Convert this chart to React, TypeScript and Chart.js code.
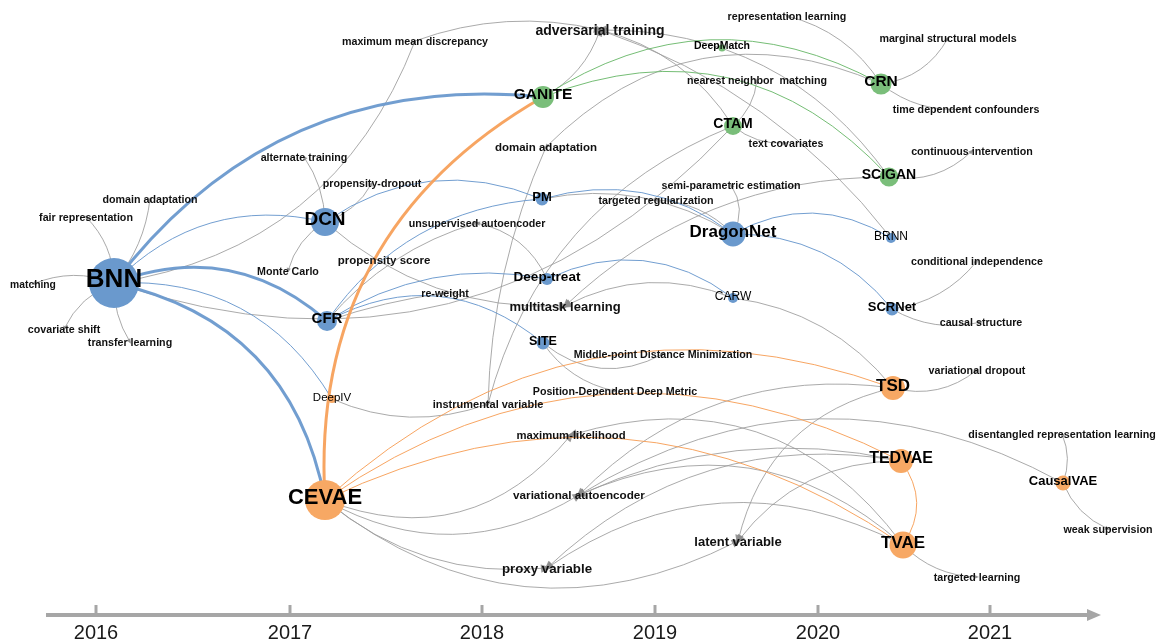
import React, { useEffect, useRef } from 'react';
import { Chart, registerables } from 'chart.js';

Chart.register(...registerables);

// ---------- data ----------
const yearLabels = ['2016', '2017', '2018', '2019', '2020', '2021'];
const yearPositions = [96, 290, 482, 655, 818, 990];
const axisExtent = [46, 1101];

const blueNames = ['BNN', 'DCN', 'CFR', 'PM', 'Deep-treat', 'SITE', 'CARW', 'DragonNet', 'BRNN', 'SCRNet'];
const blueX = [114, 325, 327, 542, 547, 543, 733, 733, 891, 892];
const blueY = [283, 222, 321, 199, 279, 343, 298, 234, 238, 309];
const blueR = [25, 14, 10, 6.5, 6, 6.5, 5, 12.5, 5, 6.5];

const greenNames = ['GANITE', 'DeepMatch', 'CTAM', 'CRN', 'SCIGAN'];
const greenX = [543, 722, 733, 881, 889];
const greenY = [97, 48, 126, 84, 177];
const greenR = [11, 3.5, 9, 10.5, 9.5];

const orangeNames = ['CEVAE', 'DeepIV', 'TSD', 'TEDVAE', 'TVAE', 'CausalVAE'];
const orangeX = [325, 332, 893, 901, 903, 1063];
const orangeY = [500, 399, 388, 461, 545, 483];
const orangeR = [20, 4, 12, 12, 13.5, 7.5];

const keywordKeys = [
  'maximum mean discrepancy', 'adversarial training', 'representation learning', 'marginal structural models',
  'nearest neighbor  matching', 'time dependent confounders', 'text covariates', 'continuous intervention',
  'domain adaptation#2', 'alternate training', 'propensity-dropout', 'domain adaptation', 'fair representation',
  'semi-parametric estimation', 'targeted regularization', 'unsupervised autoencoder', 'Monte Carlo',
  'propensity score', 'matching', 're-weight', 'multitask learning', 'conditional independence',
  'causal structure', 'covariate shift', 'transfer learning', 'Middle-point Distance Minimization',
  'variational dropout', 'Position-Dependent Deep Metric', 'instrumental variable', 'maximum-likelihood',
  'disentangled representation learning', 'variational autoencoder', 'latent variable', 'proxy variable',
  'weak supervision', 'targeted learning',
];
const keywordX = [
  415, 600, 787, 948, 757, 966, 786, 972, 546, 304, 372, 150, 86, 731, 656, 477, 288, 384, 33, 445, 565, 977,
  981, 64, 130, 663, 977, 615, 488, 571, 1062, 579, 738, 547, 1108, 977,
];
const keywordY = [
  41, 30, 16, 38, 80, 109, 143, 151, 147, 157, 183, 199, 217, 185, 200, 223, 271, 260, 284, 293, 306, 261,
  322, 329, 342, 354, 370, 391, 404, 435, 434, 495, 541, 568, 529, 577,
];

// edges: [from, to, bend]
const thickBlueEdges: [string, string, number][] = [
  ['BNN', 'GANITE', -0.28], ['BNN', 'CFR', -0.3], ['BNN', 'CEVAE', -0.33],
];
const thickOrangeEdges: [string, string, number][] = [['CEVAE', 'GANITE', -0.31]];
const blueEdges: [string, string, number][] = [
  ['BNN', 'DCN', -0.28], ['BNN', 'DeepIV', -0.3], ['DCN', 'PM', -0.27], ['CFR', 'PM', -0.24],
  ['CFR', 'Deep-treat', -0.2], ['CFR', 'SITE', -0.33], ['Deep-treat', 'CARW', -0.3], ['PM', 'DragonNet', -0.25],
  ['DragonNet', 'BRNN', -0.29], ['DragonNet', 'SCRNet', -0.24],
];
const greenEdges: [string, string, number][] = [['GANITE', 'CRN', -0.3], ['GANITE', 'SCIGAN', -0.34]];
const orangeEdges: [string, string, number][] = [
  ['CEVAE', 'TSD', -0.3], ['CEVAE', 'TEDVAE', -0.3], ['CEVAE', 'TVAE', -0.29], ['TEDVAE', 'TVAE', -0.35],
];
const grayEdges: [string, string, number][] = [
  ['BNN', 'matching', 0.2], ['BNN', 'fair representation', 0.2], ['BNN', 'domain adaptation', 0.15],
  ['BNN', 'covariate shift', 0.2], ['BNN', 'transfer learning', 0.15], ['BNN', 'maximum mean discrepancy', 0.29],
  ['BNN', 'CTAM', 0.32], ['maximum mean discrepancy', 'adversarial training', -0.15],
  ['GANITE', 'adversarial training', 0.2], ['CTAM', 'adversarial training', 0.2], ['SCIGAN', 'adversarial training', 0.26],
  ['BRNN', 'adversarial training', 0.15], ['CRN', 'representation learning', 0.2], ['CRN', 'marginal structural models', 0.25],
  ['CRN', 'time dependent confounders', 0.2], ['CRN', 'domain adaptation#2', 0.34], ['SCIGAN', 'continuous intervention', 0.25],
  ['SCIGAN', 'multitask learning', 0.2], ['CTAM', 'nearest neighbor  matching', 0.2], ['CTAM', 'text covariates', 0.2],
  ['CTAM', 'instrumental variable', 0.25], ['DCN', 'alternate training', 0.15], ['DCN', 'Monte Carlo', 0.2],
  ['DCN', 'propensity-dropout', 0.2], ['DCN', 'multitask learning', 0.2], ['CFR', 'unsupervised autoencoder', -0.15],
  ['CFR', 're-weight', -0.05], ['Deep-treat', 'unsupervised autoencoder', 0.25], ['PM', 'DragonNet', -0.2],
  ['DragonNet', 'semi-parametric estimation', 0.3], ['DragonNet', 'targeted regularization', 0.2],
  ['CARW', 'multitask learning', 0.23], ['CARW', 'TSD', -0.2], ['SITE', 'Middle-point Distance Minimization', 0.33],
  ['SITE', 'Position-Dependent Deep Metric', 0.2], ['DeepIV', 'instrumental variable', 0.2],
  ['domain adaptation#2', 'instrumental variable', 0.1], ['TSD', 'variational dropout', 0.25],
  ['SCRNet', 'conditional independence', 0.2], ['SCRNet', 'causal structure', 0.2],
  ['CausalVAE', 'disentangled representation learning', 0.2], ['CausalVAE', 'weak supervision', 0.2],
  ['TVAE', 'targeted learning', 0.2], ['CausalVAE', 'variational autoencoder', 0.29],
  ['TEDVAE', 'variational autoencoder', 0.17], ['TVAE', 'variational autoencoder', 0.32],
  ['TSD', 'variational autoencoder', 0.25], ['TSD', 'latent variable', 0.31], ['TEDVAE', 'latent variable', 0.25],
  ['TVAE', 'maximum-likelihood', 0.35], ['TEDVAE', 'proxy variable', 0.25], ['TVAE', 'proxy variable', 0.3],
  ['CEVAE', 'latent variable', 0.32], ['CEVAE', 'proxy variable', 0.21], ['CEVAE', 'variational autoencoder', 0.29],
  ['CEVAE', 'maximum-likelihood', 0.36],
];

// ---------- styles ----------
const FONT = '"Liberation Sans", Arial, sans-serif';
const COLORS = {
  blue: 'rgb(106,153,205)',
  green: 'rgb(122,190,122)',
  orange: 'rgb(247,168,100)',
  gray: 'rgba(155,155,155,0.85)',
  blueLine: 'rgba(106,153,205,0.95)',
  orangeLine: 'rgba(247,160,90,0.95)',
  greenLine: 'rgba(110,185,110,0.95)',
  axis: '#A6A6A6',
};
const nodeFontSize: Record<string, number> = {
  BNN: 26, DCN: 19, CFR: 15, PM: 13, 'Deep-treat': 13.5, SITE: 12.5, CARW: 12, DragonNet: 17, BRNN: 12, SCRNet: 13,
  GANITE: 15.5, DeepMatch: 10.5, CTAM: 14, CRN: 15.5, SCIGAN: 14,
  CEVAE: 22, DeepIV: 11.5, TSD: 17, TEDVAE: 16, TVAE: 17, CausalVAE: 13,
};
const normalWeightNodes = ['CARW', 'BRNN', 'DeepIV'];
const keywordFontSize: Record<string, number> = {
  'adversarial training': 14, 'domain adaptation#2': 11.5, 'multitask learning': 13, 'propensity score': 11.5,
  'instrumental variable': 11, 'maximum-likelihood': 11.3, 'variational autoencoder': 11.7,
  'proxy variable': 13.3, 'latent variable': 13, matching: 10.3,
};
const hubKeywords = ['adversarial training', 'multitask learning', 'variational autoencoder', 'proxy variable', 'latent variable', 'maximum-likelihood'];

function lookup(key: string): [number, number] | null {
  let i = blueNames.indexOf(key);
  if (i >= 0) return [blueX[i], blueY[i]];
  i = greenNames.indexOf(key);
  if (i >= 0) return [greenX[i], greenY[i]];
  i = orangeNames.indexOf(key);
  if (i >= 0) return [orangeX[i], orangeY[i]];
  i = keywordKeys.indexOf(key);
  if (i >= 0) return [keywordX[i], keywordY[i]];
  return null;
}

const networkPlugin = {
  id: 'network',
  beforeDatasetsDraw(chart: any) {
    const { ctx, scales } = chart;
    const xs = scales.x, ys = scales.y;
    const toPx = (k: string) => {
      const p = lookup(k)!;
      return [xs.getPixelForValue(p[0]), ys.getPixelForValue(p[1])];
    };
    const drawEdges = (list: [string, string, number][], color: string, width: number, arrows: boolean) => {
      for (const [f, t, bend] of list) {
        const a = toPx(f), b = toPx(t);
        const dx = b[0] - a[0], dy = b[1] - a[1];
        const cx = (a[0] + b[0]) / 2 - dy * bend;
        const cy = (a[1] + b[1]) / 2 + dx * bend;
        ctx.save();
        ctx.strokeStyle = color;
        ctx.lineWidth = width;
        ctx.beginPath();
        ctx.moveTo(a[0], a[1]);
        ctx.quadraticCurveTo(cx, cy, b[0], b[1]);
        ctx.stroke();
        if (arrows && keywordKeys.indexOf(t) >= 0) {
          const size = hubKeywords.indexOf(t) >= 0 ? 10 : 5;
          const ang = Math.atan2(b[1] - cy, b[0] - cx);
          const ux = Math.cos(ang), uy = Math.sin(ang);
          const tipX = b[0] + ux * size * 0.4, tipY = b[1] + uy * size * 0.4;
          const bx = b[0] - ux * size * 0.6, by = b[1] - uy * size * 0.6;
          ctx.fillStyle = 'rgba(140,140,140,0.9)';
          ctx.beginPath();
          ctx.moveTo(tipX, tipY);
          ctx.lineTo(bx - uy * size * 0.42, by + ux * size * 0.42);
          ctx.lineTo(bx + uy * size * 0.42, by - ux * size * 0.42);
          ctx.closePath();
          ctx.fill();
        }
        ctx.restore();
      }
    };
    drawEdges(grayEdges, COLORS.gray, 1, true);
    drawEdges(blueEdges, COLORS.blueLine, 1, false);
    drawEdges(greenEdges, COLORS.greenLine, 1, false);
    drawEdges(orangeEdges, COLORS.orangeLine, 1, false);
    drawEdges(thickOrangeEdges, COLORS.orangeLine, 3, false);
    drawEdges(thickBlueEdges, COLORS.blueLine, 3, false);

    // time axis
    const axisY = chart.chartArea.bottom;
    const x0 = xs.getPixelForValue(axisExtent[0]);
    const x1 = xs.getPixelForValue(axisExtent[1]);
    ctx.save();
    ctx.strokeStyle = COLORS.axis;
    ctx.fillStyle = COLORS.axis;
    ctx.lineWidth = 4;
    ctx.beginPath();
    ctx.moveTo(x0, axisY);
    ctx.lineTo(x1 - 12, axisY);
    ctx.stroke();
    ctx.beginPath();
    ctx.moveTo(x1, axisY);
    ctx.lineTo(x1 - 14, axisY - 6);
    ctx.lineTo(x1 - 14, axisY + 6);
    ctx.closePath();
    ctx.fill();
    ctx.lineWidth = 3;
    for (const v of yearPositions) {
      const px = xs.getPixelForValue(v);
      ctx.beginPath();
      ctx.moveTo(px, axisY - 10);
      ctx.lineTo(px, axisY);
      ctx.stroke();
    }
    ctx.restore();
  },
  afterDatasetsDraw(chart: any) {
    const { ctx, scales } = chart;
    const xs = scales.x, ys = scales.y;
    ctx.save();
    ctx.textAlign = 'center';
    ctx.textBaseline = 'alphabetic';
    // keyword labels
    keywordKeys.forEach((k, i) => {
      const size = keywordFontSize[k] || 10.7;
      ctx.font = `bold ${size}px ${FONT}`;
      ctx.fillStyle = '#111';
      const px = xs.getPixelForValue(keywordX[i]);
      const py = ys.getPixelForValue(keywordY[i]);
      ctx.fillText(k.split('#')[0], px, py + size * 0.36);
    });
    // node labels
    const groups: [string[], number[], number[], number[]][] = [
      [blueNames, blueX, blueY, blueR], [greenNames, greenX, greenY, greenR], [orangeNames, orangeX, orangeY, orangeR],
    ];
    for (const [names, gx, gy, gr] of groups) {
      names.forEach((n, i) => {
        const size = nodeFontSize[n] || 12;
        const weight = normalWeightNodes.indexOf(n) >= 0 ? 'normal' : 'bold';
        ctx.font = `${weight} ${size}px ${FONT}`;
        ctx.fillStyle = '#000';
        const px = xs.getPixelForValue(gx[i]);
        const py = ys.getPixelForValue(gy[i]) - Math.min(5, 2 + gr[i] * 0.12);
        ctx.fillText(n, px, py + size * 0.36);
      });
    }
    ctx.restore();
  },
};

export default function App() {
  const ref = useRef<HTMLCanvasElement | null>(null);
  useEffect(() => {
    if (!ref.current) return;
    const mk = (xs: number[], ys: number[], rs: number[]) => xs.map((x, i) => ({ x, y: ys[i], r: rs[i] }));
    const chart = new Chart(ref.current, {
      type: 'bubble',
      data: {
        datasets: [
          { label: 'blue', data: mk(blueX, blueY, blueR), backgroundColor: COLORS.blue, borderWidth: 0, clip: false },
          { label: 'green', data: mk(greenX, greenY, greenR), backgroundColor: COLORS.green, borderWidth: 0, clip: false },
          { label: 'orange', data: mk(orangeX, orangeY, orangeR), backgroundColor: COLORS.orange, borderWidth: 0, clip: false },
          { label: 'keywords', data: mk(keywordX, keywordY, keywordX.map(() => 0)), backgroundColor: 'rgba(0,0,0,0)', borderWidth: 0 },
        ],
      },
      options: {
        animation: false,
        responsive: true,
        maintainAspectRatio: false,
        devicePixelRatio: 1,
        events: [],
        layout: { padding: 0, autoPadding: false },
        plugins: { legend: { display: false }, tooltip: { enabled: false } },
        scales: {
          x: {
            type: 'linear',
            min: 0,
            max: 1159,
            grid: { display: false, drawTicks: false, tickLength: 0 },
            border: { display: false },
            afterBuildTicks: (axis: any) => {
              axis.ticks = yearPositions.map((v) => ({ value: v }));
            },
            afterFit: (axis: any) => {
              axis.height = 26;
            },
            ticks: {
              autoSkip: false,
              maxRotation: 0,
              padding: 8,
              color: '#1a1a1a',
              font: { family: FONT, size: 20, lineHeight: 1 },
              callback: (_v: any, i: number) => yearLabels[i],
            },
          },
          y: { type: 'linear', display: false, min: 0, max: 615, reverse: true },
        },
      } as any,
      plugins: [networkPlugin],
    });
    return () => chart.destroy();
  }, []);
  return (
    <div style={{ position: 'fixed', left: 0, top: 0, width: 1159, height: 641, background: '#fff' }}>
      <canvas ref={ref} />
    </div>
  );
}
